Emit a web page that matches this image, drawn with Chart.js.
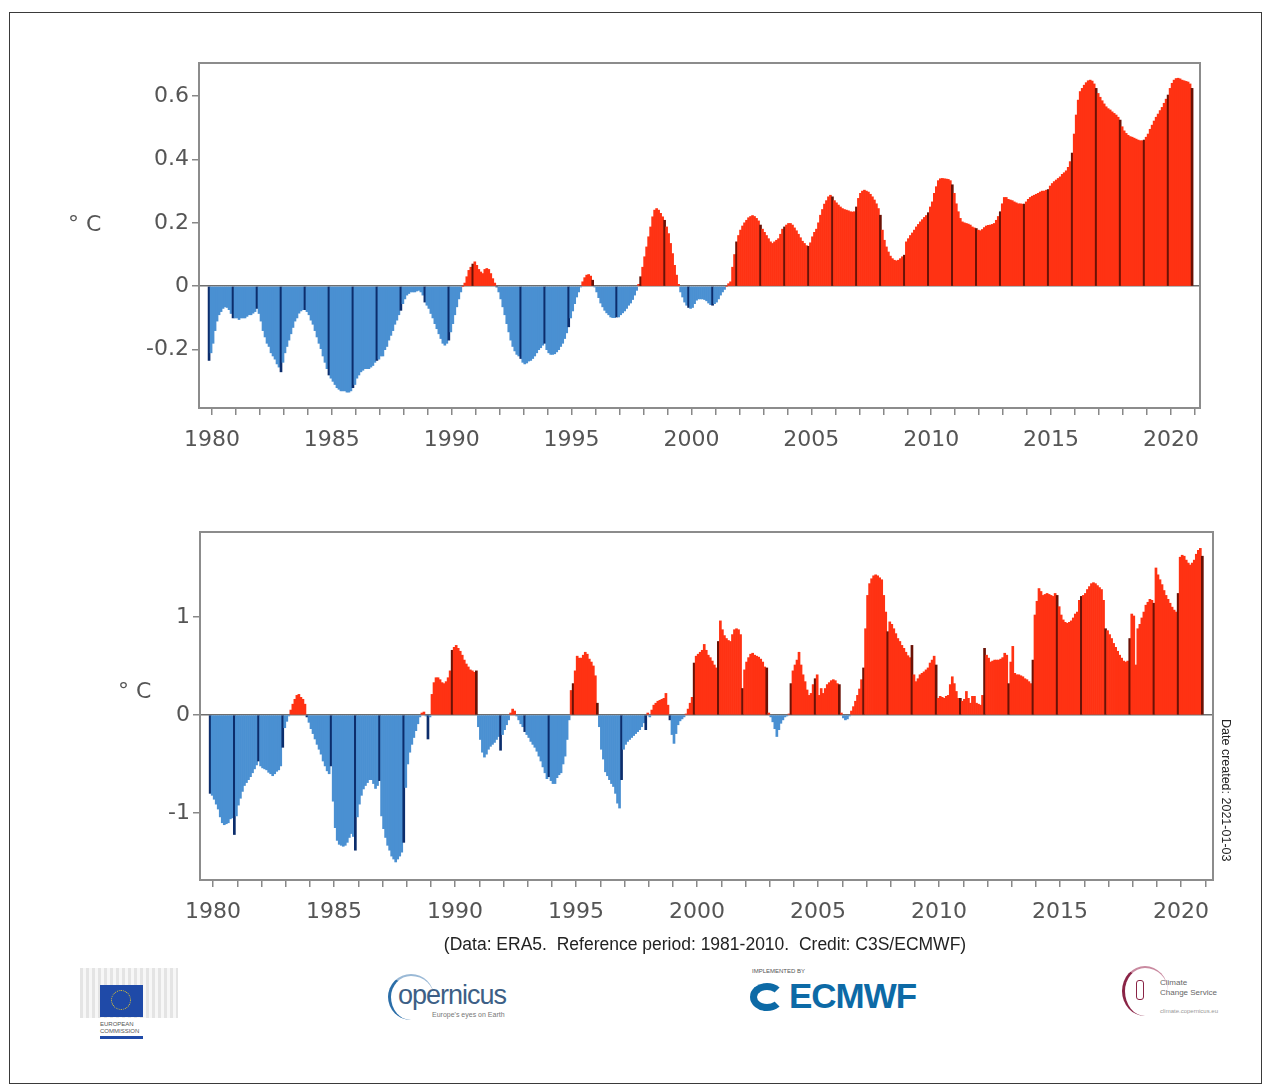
<!DOCTYPE html>
<html lang="en">
<head>
<meta charset="UTF-8">
<title>Surface air temperature anomalies, ERA5</title>
<script src="https://cdn.jsdelivr.net/npm/chart.js"></script>
<style>
  body { margin: 0; background: #fff; font-family: "DejaVu Sans", sans-serif; }
  .page { position: relative; width: 1271px; height: 1092px; overflow: hidden; background: #fff; }
  .frame { position: absolute; left: 9px; top: 12px; width: 1251px; height: 1070px; border: 1.5px solid #3a3a3a; }
  canvas { position: absolute; left: 0; }
  #chart-global { top: 30px; }
  #chart-europe { top: 500px; }
  .unit { position: absolute; font-size: 22px; color: #555; }
  .credit { position: absolute; left: 0; width: 1410px; top: 934px; text-align: center; font-family: "Liberation Sans", Arial, sans-serif; font-size: 17.5px; color: #222; }
  .created { position: absolute; left: 1219px; top: 719px; writing-mode: vertical-rl; font-family: "Liberation Sans", Arial, sans-serif; font-size: 12.5px; color: #222; }
  .logo { position: absolute; font-family: "Liberation Sans", Arial, sans-serif; }
</style>
</head>
<body>
<div class="page">
  <div class="frame"></div>
  <canvas id="chart-global" width="1271" height="450"></canvas>
  <canvas id="chart-europe" width="1271" height="450"></canvas>
  <div class="unit" style="left:68px; top:211px;">° C</div>
  <div class="unit" style="left:118px; top:678px;">° C</div>
  <div class="created">Date created: 2021-01-03</div>
  <div class="credit">(Data: ERA5.&nbsp; Reference period: 1981-2010.&nbsp; Credit: C3S/ECMWF)</div>

  <!-- logos, roughly sketched -->
  <div class="logo" style="left:80px; top:968px; width:98px; height:50px; background:repeating-linear-gradient(90deg,#e4e4e4 0 3px,#f7f7f7 3px 6px);"></div>
  <div class="logo" style="left:100px; top:985px; width:43px; height:32px; background:#1f4aa8;"></div>
  <div class="logo" style="left:111px; top:990px; width:20px; height:20px; border:1.5px dotted #f2d024; border-radius:50%; box-sizing:border-box;"></div>
  <div class="logo" style="left:100px; top:1021px; font-size:6px; color:#555; line-height:7px;">EUROPEAN<br>COMMISSION</div>
  <div class="logo" style="left:100px; top:1036px; width:43px; height:3px; background:#1f4aa8;"></div>

  <div class="logo" style="left:388px; top:974px; width:46px; height:46px; border-left:3px solid #2b6ea8; border-top:2px solid #9ab9d6; border-radius:50%; box-sizing:border-box;"></div>
  <div class="logo" style="left:398px; top:980px; font-size:27px; color:#3d5f86; letter-spacing:-1px;">opernicus</div>
  <div class="logo" style="left:432px; top:1011px; font-size:7px; color:#777;">Europe's eyes on Earth</div>

  <div class="logo" style="left:752px; top:968px; font-size:6px; color:#555;">IMPLEMENTED BY</div>
  <div class="logo" style="left:750px; top:983px; width:34px; height:28px; border:7px solid #0d6aa6; border-right-color:transparent; border-radius:50%; box-sizing:border-box;"></div>
  <div class="logo" style="left:789px; top:976px; font-size:35px; font-weight:bold; color:#0d6aa6; letter-spacing:-1px;">ECMWF</div>

  <div class="logo" style="left:1122px; top:966px; width:46px; height:50px; border-left:3px solid #8a2446; border-top:2px solid #c98aa0; border-radius:50%; box-sizing:border-box;"></div>
  <div class="logo" style="left:1136px; top:980px; width:6px; height:18px; border:1.5px solid #8a2446; border-radius:3px;"></div>
  <div class="logo" style="left:1160px; top:978px; font-size:8px; color:#666; line-height:10px;">Climate<br>Change Service</div>
  <div class="logo" style="left:1160px; top:1008px; font-size:6px; color:#999;">climate.copernicus.eu</div>
</div>

<script>
// decimal-year position of the first monthly bar (December 1979)
const firstBar = 1979.88;

// 12-month running mean, global, °C (Dec 1979, then Jan..Dec of each year)
const globalT2m = [
  -0.234,
  -0.21, -0.18, -0.14, -0.11, -0.09, -0.08, -0.07, -0.065, -0.067, -0.074, -0.086, -0.10,   // 1980
  -0.10, -0.10, -0.105, -0.10, -0.10, -0.10, -0.095, -0.09, -0.09, -0.085, -0.08, -0.07,    // 1981
  -0.086, -0.11, -0.14, -0.16, -0.18, -0.19, -0.21, -0.22, -0.23, -0.245, -0.255, -0.27,    // 1982
  -0.24, -0.21, -0.19, -0.17, -0.15, -0.13, -0.11, -0.10, -0.085, -0.078, -0.074, -0.074,   // 1983
  -0.08, -0.09, -0.107, -0.12, -0.14, -0.16, -0.18, -0.197, -0.22, -0.24, -0.26, -0.28,     // 1984
  -0.29, -0.30, -0.31, -0.32, -0.325, -0.33, -0.33, -0.33, -0.334, -0.334, -0.33, -0.32,    // 1985
  -0.31, -0.29, -0.28, -0.27, -0.265, -0.26, -0.26, -0.26, -0.255, -0.25, -0.24, -0.234,    // 1986
  -0.23, -0.22, -0.22, -0.20, -0.19, -0.17, -0.155, -0.14, -0.12, -0.107, -0.09, -0.076,    // 1987
  -0.055, -0.04, -0.028, -0.023, -0.018, -0.018, -0.018, -0.015, -0.013, -0.018, -0.028, -0.05, // 1988
  -0.06, -0.07, -0.086, -0.10, -0.118, -0.134, -0.15, -0.165, -0.18, -0.186, -0.18, -0.17,  // 1989
  -0.144, -0.118, -0.09, -0.065, -0.04, -0.018, 0.0, 0.01, 0.03, 0.05, 0.06, 0.07,          // 1990
  0.077, 0.066, 0.053, 0.045, 0.04, 0.053, 0.056, 0.053, 0.04, 0.024, 0.01, -0.002,         // 1991
  -0.018, -0.04, -0.065, -0.09, -0.118, -0.144, -0.17, -0.19, -0.204, -0.215, -0.22, -0.228, // 1992
  -0.24, -0.245, -0.242, -0.236, -0.234, -0.228, -0.22, -0.21, -0.20, -0.194, -0.186, -0.18, // 1993
  -0.20, -0.21, -0.215, -0.215, -0.213, -0.207, -0.20, -0.19, -0.18, -0.165, -0.147, -0.128, // 1994
  -0.10, -0.078, -0.055, -0.034, -0.018, -0.002, 0.014, 0.027, 0.035, 0.037, 0.032, 0.019,  // 1995
  -0.002, -0.018, -0.036, -0.053, -0.065, -0.076, -0.084, -0.09, -0.097, -0.099, -0.099, -0.097, // 1996
  -0.097, -0.09, -0.084, -0.078, -0.07, -0.06, -0.053, -0.042, -0.028, -0.013, 0.006, 0.03, // 1997
  0.06, 0.093, 0.124, 0.156, 0.187, 0.219, 0.24, 0.245, 0.24, 0.23, 0.219, 0.208,           // 1998
  0.187, 0.166, 0.135, 0.103, 0.066, 0.035, 0.006, -0.018, -0.034, -0.05, -0.06, -0.067,    // 1999
  -0.07, -0.067, -0.055, -0.044, -0.04, -0.04, -0.04, -0.042, -0.046, -0.053, -0.058, -0.06, // 2000
  -0.055, -0.05, -0.04, -0.028, -0.018, -0.01, 0.0, 0.008, 0.014, 0.06, 0.10, 0.14,         // 2001
  0.16, 0.177, 0.19, 0.20, 0.208, 0.216, 0.22, 0.223, 0.22, 0.214, 0.206, 0.193,            // 2002
  0.18, 0.17, 0.16, 0.15, 0.14, 0.135, 0.14, 0.145, 0.15, 0.164, 0.18, 0.187,               // 2003
  0.193, 0.198, 0.198, 0.193, 0.184, 0.175, 0.164, 0.153, 0.142, 0.135, 0.128, 0.126,       // 2004
  0.137, 0.156, 0.17, 0.18, 0.20, 0.224, 0.242, 0.259, 0.27, 0.282, 0.287, 0.282,           // 2005
  0.27, 0.263, 0.256, 0.25, 0.245, 0.242, 0.24, 0.238, 0.235, 0.234, 0.235, 0.25,           // 2006
  0.277, 0.293, 0.30, 0.303, 0.30, 0.297, 0.29, 0.282, 0.272, 0.26, 0.245, 0.224,           // 2007
  0.177, 0.145, 0.124, 0.108, 0.095, 0.087, 0.082, 0.08, 0.082, 0.087, 0.093, 0.098,        // 2008
  0.14, 0.15, 0.16, 0.168, 0.177, 0.187, 0.195, 0.203, 0.21, 0.217, 0.223, 0.232,           // 2009
  0.25, 0.266, 0.293, 0.314, 0.333, 0.339, 0.34, 0.339, 0.338, 0.337, 0.333, 0.32,          // 2010
  0.293, 0.26, 0.235, 0.214, 0.203, 0.20, 0.198, 0.196, 0.193, 0.187, 0.184, 0.182,         // 2011
  0.177, 0.175, 0.179, 0.185, 0.19, 0.192, 0.193, 0.195, 0.198, 0.208, 0.22, 0.235,         // 2012
  0.26, 0.28, 0.28, 0.274, 0.272, 0.27, 0.266, 0.263, 0.26, 0.26, 0.259, 0.259,             // 2013
  0.266, 0.274, 0.28, 0.284, 0.287, 0.29, 0.293, 0.297, 0.30, 0.30, 0.303, 0.305,           // 2014
  0.316, 0.324, 0.33, 0.335, 0.34, 0.345, 0.353, 0.358, 0.364, 0.375, 0.393, 0.42,          // 2015
  0.48, 0.54, 0.587, 0.614, 0.624, 0.634, 0.642, 0.648, 0.65, 0.647, 0.638, 0.624,          // 2016
  0.608, 0.596, 0.585, 0.575, 0.566, 0.56, 0.556, 0.55, 0.545, 0.54, 0.533, 0.524,          // 2017
  0.503, 0.49, 0.482, 0.476, 0.472, 0.47, 0.467, 0.464, 0.461, 0.459, 0.459, 0.461,         // 2018
  0.47, 0.48, 0.495, 0.508, 0.521, 0.533, 0.543, 0.554, 0.564, 0.577, 0.59, 0.603,          // 2019
  0.624, 0.64, 0.65, 0.655, 0.656, 0.654, 0.65, 0.648, 0.646, 0.644, 0.638, 0.624           // 2020
];

// 12-month running mean, Europe, °C (Dec 1979, then Jan..Dec of each year)
const europeT2m = [
  -0.80,
  -0.82, -0.86, -0.91, -0.96, -1.04, -1.10, -1.12, -1.11, -1.10, -1.06, -1.05, -1.22,      // 1980
  -1.03, -0.92, -0.85, -0.78, -0.72, -0.69, -0.66, -0.63, -0.59, -0.55, -0.51, -0.47,      // 1981
  -0.52, -0.54, -0.55, -0.56, -0.585, -0.60, -0.62, -0.60, -0.575, -0.56, -0.52, -0.33,    // 1982
  -0.13, -0.065, -0.01, 0.05, 0.11, 0.16, 0.20, 0.21, 0.18, 0.16, 0.11, -0.02,             // 1983
  -0.075, -0.14, -0.19, -0.245, -0.30, -0.35, -0.40, -0.47, -0.52, -0.57, -0.60, -0.52,    // 1984
  -0.88, -1.15, -1.28, -1.32, -1.33, -1.34, -1.33, -1.30, -1.25, -1.21, -1.24, -1.38,      // 1985
  -1.04, -0.91, -0.82, -0.755, -0.72, -0.69, -0.66, -0.66, -0.70, -0.75, -0.72, -0.67,     // 1986
  -1.03, -1.16, -1.25, -1.33, -1.38, -1.44, -1.47, -1.50, -1.47, -1.44, -1.40, -1.30,      // 1987
  -0.74, -0.50, -0.38, -0.30, -0.23, -0.16, -0.09, -0.02, 0.02, 0.03, -0.01, -0.245,       // 1988
  -0.02, 0.21, 0.33, 0.38, 0.38, 0.36, 0.33, 0.32, 0.34, 0.38, 0.45, 0.66,                 // 1989
  0.69, 0.71, 0.68, 0.65, 0.61, 0.56, 0.52, 0.49, 0.46, 0.45, 0.435, 0.45,                 // 1990
  -0.12, -0.25, -0.38, -0.43, -0.40, -0.35, -0.32, -0.30, -0.28, -0.25, -0.22, -0.36,      // 1991
  -0.20, -0.15, -0.10, -0.05, 0.02, 0.06, 0.04, -0.01, -0.05, -0.09, -0.12, -0.17,         // 1992
  -0.20, -0.23, -0.27, -0.30, -0.33, -0.37, -0.42, -0.47, -0.53, -0.59, -0.65, -0.63,      // 1993
  -0.67, -0.70, -0.70, -0.64, -0.61, -0.59, -0.50, -0.42, -0.25, -0.05, 0.25, 0.32,        // 1994
  0.45, 0.60, 0.58, 0.58, 0.61, 0.64, 0.62, 0.57, 0.54, 0.50, 0.40, 0.12,                  // 1995
  -0.12, -0.35, -0.45, -0.58, -0.62, -0.66, -0.70, -0.73, -0.80, -0.90, -0.95, -0.66,      // 1996
  -0.35, -0.30, -0.27, -0.25, -0.23, -0.21, -0.19, -0.17, -0.15, -0.12, -0.08, -0.15,      // 1997
  0.02, -0.02, 0.05, 0.10, 0.12, 0.14, 0.15, 0.16, 0.17, 0.22, 0.10, -0.05,                // 1998
  -0.20, -0.29, -0.19, -0.10, -0.06, -0.04, -0.02, 0.01, 0.06, 0.12, 0.18, 0.53,           // 1999
  0.60, 0.62, 0.64, 0.66, 0.72, 0.66, 0.61, 0.585, 0.55, 0.51, 0.48, 0.75,                 // 2000
  0.96, 0.87, 0.81, 0.78, 0.76, 0.75, 0.82, 0.87, 0.88, 0.87, 0.82, 0.27,                  // 2001
  0.46, 0.54, 0.585, 0.62, 0.63, 0.61, 0.60, 0.59, 0.57, 0.54, 0.49, 0.48,                 // 2002
  0.02, -0.02, -0.07, -0.14, -0.22, -0.15, -0.085, -0.05, -0.02, -0.01, 0.01, 0.32,        // 2003
  0.45, 0.51, 0.56, 0.64, 0.51, 0.41, 0.34, 0.255, 0.20, 0.22, 0.31, 0.37,                 // 2004
  0.41, 0.20, 0.27, 0.22, 0.27, 0.31, 0.33, 0.35, 0.36, 0.35, 0.32, 0.31,                  // 2005
  0.02, -0.03, -0.05, -0.04, -0.01, 0.04, 0.085, 0.14, 0.20, 0.265, 0.36, 0.48,            // 2006
  0.88, 1.22, 1.34, 1.39, 1.42, 1.43, 1.42, 1.40, 1.38, 1.22, 1.05, 0.85,                  // 2007
  0.95, 0.925, 0.88, 0.83, 0.78, 0.75, 0.71, 0.68, 0.64, 0.605, 0.585, 0.71,               // 2008
  0.41, 0.34, 0.37, 0.41, 0.425, 0.44, 0.46, 0.48, 0.53, 0.56, 0.60, 0.51,                 // 2009
  0.17, 0.19, 0.18, 0.17, 0.19, 0.20, 0.31, 0.39, 0.32, 0.24, 0.17, 0.17,                  // 2010
  0.14, 0.16, 0.24, 0.17, 0.12, 0.19, 0.19, 0.12, 0.11, 0.10, 0.20, 0.68,                  // 2011
  0.61, 0.58, 0.54, 0.55, 0.56, 0.56, 0.56, 0.57, 0.585, 0.63, 0.61, 0.32,                 // 2012
  0.54, 0.70, 0.425, 0.41, 0.41, 0.40, 0.39, 0.37, 0.36, 0.34, 0.32, 0.56,                 // 2013
  1.02, 1.16, 1.29, 1.26, 1.22, 1.23, 1.24, 1.23, 1.22, 1.21, 1.24, 1.22,                  // 2014
  1.105, 1.02, 0.97, 0.945, 0.935, 0.945, 0.96, 0.99, 1.03, 1.05, 1.17, 1.21,              // 2015
  1.22, 1.24, 1.28, 1.31, 1.34, 1.35, 1.34, 1.32, 1.30, 1.28, 1.17, 0.88,                  // 2016
  0.86, 0.82, 0.78, 0.73, 0.69, 0.65, 0.61, 0.58, 0.55, 0.54, 0.55, 0.78,                  // 2017
  1.03, 1.01, 0.51, 0.88, 0.925, 0.99, 1.05, 1.12, 1.15, 1.18, 1.17, 1.14,                 // 2018
  1.50, 1.43, 1.38, 1.33, 1.27, 1.22, 1.18, 1.14, 1.10, 1.07, 1.05, 1.24,                  // 2019
  1.61, 1.63, 1.62, 1.58, 1.55, 1.53, 1.55, 1.58, 1.64, 1.68, 1.70, 1.62                   // 2020
];

const yearLabels = [1980, 1985, 1990, 1995, 2000, 2005, 2010, 2015, 2020];
const globalTicks = [-0.2, 0, 0.2, 0.4, 0.6];
const europeTicks = [-1, 0, 1];

const RED = '#ff3213', DARK_RED = '#6a1206';
const BLUE = '#4a90d2', DARK_BLUE = '#0c2d6c';

Chart.defaults.font.family = '"DejaVu Sans", sans-serif';
Chart.defaults.color = '#555';

const framePlugin = {
  id: 'frame',
  afterDraw(chart) {
    const { ctx, chartArea: a } = chart;
    ctx.save();
    ctx.strokeStyle = '#8c8c8c';
    ctx.lineWidth = 2;
    ctx.strokeRect(a.left, a.top, a.right - a.left, a.bottom - a.top);
    ctx.restore();
  }
};

function makeChart(id, values, yMin, yMax, yTicks, xMax, pad) {
  const points = values.map((v, i) => ({ x: firstBar + i / 12, y: v }));
  const yearTicks = [];
  for (let y = 1980; y <= Math.floor(xMax); y++) yearTicks.push({ value: y });

  return new Chart(document.getElementById(id), {
    type: 'bar',
    data: {
      datasets: [{
        data: points,
        borderWidth: 0,
        barPercentage: 1,
        categoryPercentage: 1,
        backgroundColor: c => {
          const dark = c.dataIndex % 12 === 0;
          const v = c.raw ? c.raw.y : 0;
          if (v >= 0) return dark ? DARK_RED : RED;
          return dark ? DARK_BLUE : BLUE;
        }
      }]
    },
    options: {
      responsive: false,
      animation: false,
      layout: { padding: pad },
      plugins: { legend: { display: false }, tooltip: { enabled: false } },
      scales: {
        x: {
          type: 'linear',
          offset: false,
          min: 1979.46,
          max: xMax,
          afterBuildTicks: s => { s.ticks = yearTicks.slice(); },
          afterFit: s => { s.height = 60; },
          ticks: {
            autoSkip: false,
            maxRotation: 0,
            padding: 12,
            font: { size: 22 },
            color: '#555',
            callback: v => (yearLabels.includes(v) ? String(v) : '')
          },
          grid: { offset: false, drawOnChartArea: false, tickLength: 7, tickColor: '#888', lineWidth: 1.5 },
          border: { display: false }
        },
        y: {
          min: yMin,
          max: yMax,
          afterBuildTicks: s => { s.ticks = yTicks.map(v => ({ value: v })); },
          afterFit: s => { s.width = 80; },
          ticks: { padding: 3, font: { size: 22 }, color: '#555', callback: v => String(v) },
          grid: {
            tickLength: 7,
            tickColor: '#888',
            lineWidth: 1.5,
            color: c => (c.tick && c.tick.value === 0 ? '#6e6e6e' : 'rgba(0,0,0,0)')
          },
          border: { display: false }
        }
      }
    },
    plugins: [framePlugin]
  });
}

makeChart('chart-global', globalT2m, -0.384, 0.704, globalTicks, 2021.21,
  { left: 119, top: 33, right: 71, bottom: 12 });
makeChart('chart-europe', europeT2m, -1.684, 1.867, europeTicks, 2021.32,
  { left: 120, top: 32, right: 58, bottom: 10 });
</script>
</body>
</html>
